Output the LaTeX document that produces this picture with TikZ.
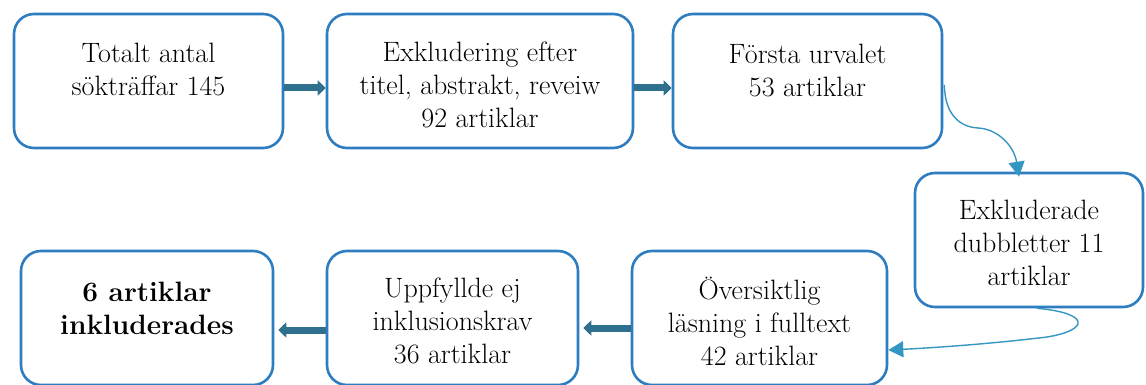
\documentclass[tikz,border=0pt]{standalone}
\usetikzlibrary{arrows.meta,calc}
\definecolor{boxblue}{RGB}{46,125,192}
\definecolor{arrteal}{RGB}{47,112,143}
\definecolor{curveblue}{RGB}{52,150,194}
\tikzset{
  box/.style={draw=boxblue, line width=2.6pt, rounded corners=20pt, fill=white, inner sep=0pt},
  txt/.style={align=center, font=\fontsize{28}{33}\selectfont, inner sep=0pt},
  blockarrow/.style={draw=arrteal, line width=7pt, -{Triangle[width=15pt,length=8pt]}},
  curvearrow/.style={draw=curveblue, line width=1.4pt, -{Triangle[width=16pt,length=15pt]}}
}
\begin{document}
\begin{tikzpicture}[x=1pt,y=-1pt]
\useasboundingbox (0,0) rectangle (1146,385);
% boxes
\node[box, minimum width=269pt, minimum height=134pt] (b1) at (148.5,81) {};
\node[box, minimum width=306pt, minimum height=134pt] (b2) at (480,81) {};
\node[box, minimum width=269pt, minimum height=134pt] (b3) at (807.5,81) {};
\node[box, minimum width=228pt, minimum height=134pt] (b4) at (1029,240) {};
\node[box, minimum width=252pt, minimum height=134pt] (b5) at (147,318) {};
\node[box, minimum width=251pt, minimum height=134pt] (b6) at (452.5,318) {};
\node[box, minimum width=255pt, minimum height=134pt] (b7) at (759.5,318) {};
% texts
\node[txt] (t1) at (148.5,70) {Totalt antal\\sökträffar 145};
\node[txt] (t2) at (480,85) {Exkludering efter\\titel, abstrakt, reveiw\\92 artiklar};
\node[txt] (t3) at (807.5,71) {Första urvalet\\53 artiklar};
\node[txt] (t4) at (1029,243) {Exkluderade\\dubbletter 11\\artiklar};
\node[txt, font=\fontsize{28}{33}\selectfont\bfseries] (t5) at (147,308) {6 artiklar\\inkluderades};
\node[txt] (t6) at (452.5,321) {Uppfyllde ej\\inklusionskrav\\36 artiklar};
\node[txt] (t7) at (759.5,321) {Översiktlig\\läsning i fulltext\\42 artiklar};
% block arrows
\draw[blockarrow] ([yshift=-7pt]b1.east) -- ([yshift=-7pt]b2.west);
\draw[blockarrow] ([yshift=-7pt]b2.east) -- ([yshift=-7pt]b3.west);
\draw[blockarrow] ([yshift=-10pt]b7.west) -- ([yshift=-10pt,xshift=4pt]b6.east);
\draw[blockarrow] ([yshift=-12pt]b6.west) -- ([yshift=-12pt,xshift=4pt]b5.east);
% curved connectors
\draw[curvearrow] ([yshift=-4pt,xshift=1pt]b3.east) .. controls (945,115) and (960,127) .. (978,128)
   .. controls (998,129) and (1014,146) .. ([xshift=-10pt,yshift=-5pt]b4.north);
\draw[curvearrow] ([xshift=8pt]b4.south) .. controls (1090,313) and (1090,330) .. (1047,337)
   .. controls (990,344) and (930,348) .. ([yshift=-32pt]b7.east);
\end{tikzpicture}
\end{document}
